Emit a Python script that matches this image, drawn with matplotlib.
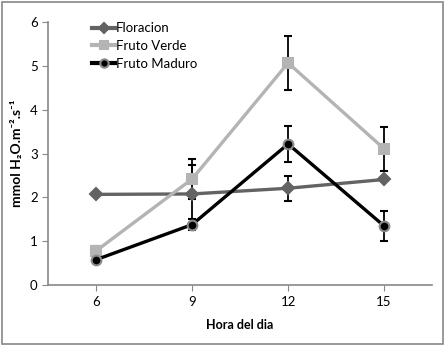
import matplotlib

matplotlib.use("Agg")
import matplotlib.pyplot as plt
from matplotlib.lines import Line2D
from matplotlib.patches import Rectangle

HOURS = [6, 9, 12, 15]
FLORACION = [2.07, 2.08, 2.21, 2.41]
FLORACION_ERR = [0.0, 0.66, 0.28, 0.0]
FRUTO_VERDE = [0.78, 2.42, 5.07, 3.11]
FRUTO_VERDE_ERR = [0.12, 0.46, 0.62, 0.5]
FRUTO_MADURO = [0.58, 1.38, 3.22, 1.35]
FRUTO_MADURO_ERR = [0.0, 0.13, 0.41, 0.34]

plt.rcParams["font.family"] = ["Lato", "DejaVu Sans"]

fig = plt.figure(figsize=(4.45, 3.46), dpi=100)
ax = fig.add_axes([0.108, 0.176, 0.863, 0.76])

series = [
    ("Floracion", FLORACION, FLORACION_ERR, "#636363", "D", "#636363", 6),
    ("Fruto Verde", FRUTO_VERDE, FRUTO_VERDE_ERR, "#b4b4b4", "s", "#b4b4b4", 7),
    ("Fruto Maduro", FRUTO_MADURO, FRUTO_MADURO_ERR, "#000000", "o", "#8a8a8a", 7),
]
handles = []
for label, vals, errs, color, marker, edge, ms in series:
    ax.errorbar(HOURS, vals, yerr=errs, color=color, lw=2.4, marker=marker,
                ms=ms, mfc=color, mec=edge, mew=1.5, ecolor="black",
                elinewidth=1.3, capsize=3, capthick=1.3)
    handles.append(Line2D([], [], color=color, lw=3, marker=marker, ms=ms - 1,
                          mfc=color, mec=edge, mew=1.5, label=label))

ax.set_xlim(4.5, 16.5)
ax.set_ylim(0, 6)
ax.set_xticks(HOURS)
ax.set_yticks(range(7))
ax.tick_params(labelsize=9.5, color="#888888", length=4)
for side in ("top", "right"):
    ax.spines[side].set_visible(False)
for side in ("left", "bottom"):
    ax.spines[side].set_color("#888888")
    ax.spines[side].set_linewidth(1.2)

ax.set_xlabel("Hora del dia", fontsize=9, fontweight="bold", labelpad=8)
ax.set_ylabel("mmol H\u2082O.m\u207b\u00b2.s\u207b\u00b9", fontsize=10,
              fontweight="bold", labelpad=5)

ax.legend(handles=handles, loc="upper left", bbox_to_anchor=(0.1, 1.02),
          frameon=False, fontsize=9.5, handlelength=1.8, handletextpad=0.05,
          labelspacing=0.45, borderaxespad=0)

fig.add_artist(Rectangle((0.004, 0.006), 0.992, 0.988, transform=fig.transFigure,
                         fill=False, edgecolor="#888888", lw=1.2))

fig.savefig("out.png", dpi=100)
